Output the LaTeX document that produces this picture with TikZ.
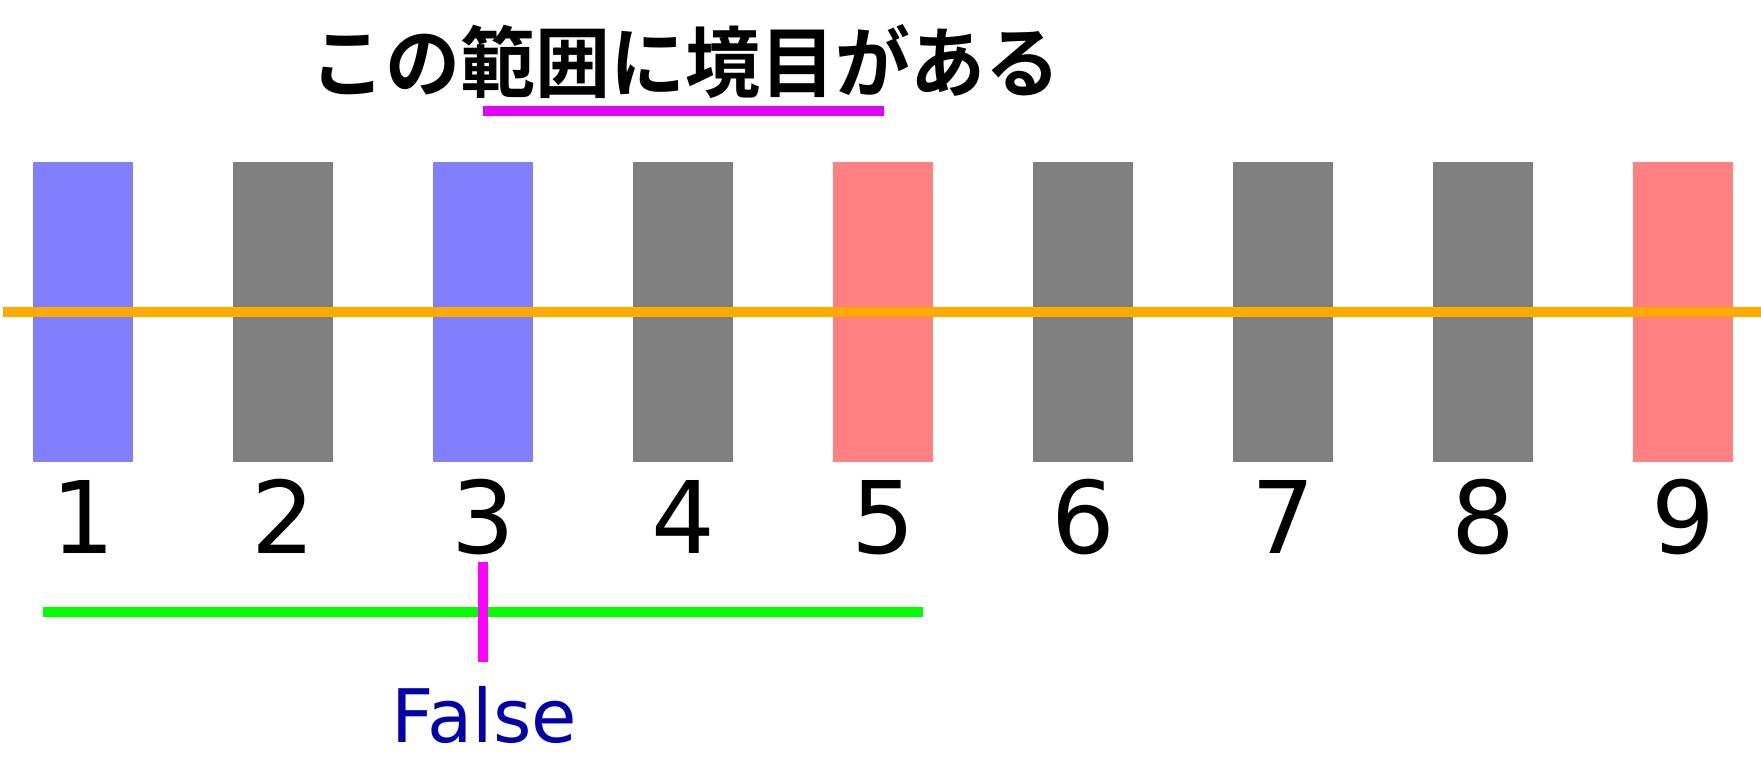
\documentclass[tikz,border=0pt]{standalone}
\usepackage{fontspec}
\setmainfont{DejaVu Sans}
\newfontfamily\jpfont{Noto Sans CJK JP}[BoldFont={Noto Sans CJK JP Bold}, FakeStretch=0.97]
\usetikzlibrary{positioning}
\definecolor{BarBlue}{RGB}{128,128,255}
\definecolor{BarGray}{RGB}{128,128,128}
\definecolor{BarRed}{RGB}{255,128,128}
\definecolor{LineOrange}{RGB}{255,170,0}
\definecolor{LineGreen}{RGB}{0,255,0}
\definecolor{MarkMagenta}{RGB}{255,0,255}
\definecolor{UnderMagenta}{RGB}{224,0,255}
\definecolor{TextBlue}{RGB}{0,0,170}

\begin{document}
\begin{tikzpicture}[
    bar/.style={minimum width=1cm, minimum height=3cm, inner sep=0pt, outer sep=0pt, anchor=north},
    num/.style={font=\fontsize{28.5}{30}\selectfont, inner sep=0pt, anchor=base},
    rule/.style={line width=0.1cm},
]
\useasboundingbox[fill=white] (0,0) rectangle (17.61,-7.70);

% ============ titulo ============
\node[font=\jpfont\bfseries\fontsize{22}{24}\selectfont, inner sep=0pt, anchor=base] (title) at (6.855,-0.91) {この範囲に境目がある};
\coordinate (ulL) at (4.83,-1.11);
\coordinate (ulR) at (8.84,-1.11);
\draw[rule, UnderMagenta] (ulL) -- (ulR);

% ============ barras ============
\foreach \i/\c in {1/BarBlue,2/BarGray,3/BarBlue,4/BarGray,5/BarRed,6/BarGray,7/BarGray,8/BarGray,9/BarRed} {
    \node[bar, fill=\c] (bar\i) at ({0.83+2*(\i-1)},-1.62) {};
    \node[num] (num\i) at ({0.83+2*(\i-1)},-5.53) {\i};
}

% linea horizontal
\coordinate (hL) at (0.03,-3.12);
\coordinate (hR) at (17.61,-3.12);
\draw[rule, LineOrange] (hL) -- (hR);

% ============ rango y corte ============
\coordinate (gL) at (0.43,-6.12);
\coordinate (gR) at (9.23,-6.12);
\draw[rule, LineGreen] (gL) -- (gR);
\coordinate (cutT) at (4.83,-5.62);
\coordinate (cutB) at (4.83,-6.62);
\draw[rule, MarkMagenta] (cutT) -- (cutB);
\node[font=\fontsize{21}{23}\selectfont, text=TextBlue, inner sep=0pt, anchor=base] (res) at (4.845,-7.42) {False};

\end{tikzpicture}
\end{document}
